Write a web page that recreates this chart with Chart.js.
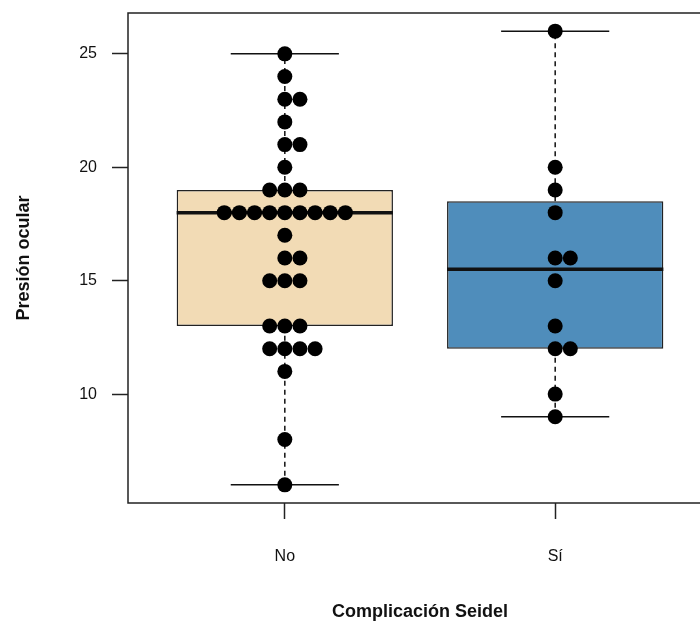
<!DOCTYPE html>
<html>
<head>
<meta charset="utf-8">
<script src="https://cdn.jsdelivr.net/npm/chart.js@4/dist/chart.umd.min.js"></script>
<style>
  html, body { margin: 0; padding: 0; background: #fff; overflow: hidden; }
  #wrap { width: 720px; height: 628px; }
</style>
</head>
<body>
<div id="wrap"><canvas id="grafico" width="720" height="628"></canvas></div>
<script>
// grupos y colores
const grupos = ['No', 'Sí'];
const coloresCaja = ['#F2DBB5', '#4F8DBB'];

// observaciones (presión ocular) por grupo
const presionNo = [6, 8, 11, 12, 12, 12, 12, 13, 13, 13, 15, 15, 15, 16, 16, 17,
  18, 18, 18, 18, 18, 18, 18, 18, 18, 19, 19, 19, 20, 21, 21, 22, 23, 23, 24, 25];
const presionSi = [9, 10, 12, 12, 13, 15, 16, 16, 18, 19, 20, 26];

// resumen de las cajas
const q1 = [13, 12];
const mediana = [18, 15.5];
const q3 = [19, 18.5];
const bigoteMin = [6, 9];
const bigoteMax = [25, 26];

const ticksY = [10, 15, 20, 25];

const fuente = '"Liberation Sans", Arial, Helvetica, sans-serif';

// colocar los puntos en enjambre: centro, +1, -1, +2, -2 ...
let enjambre = function (valores, centro) {
  let cuenta = {};
  return valores.map(function (v) {
    let k = cuenta[v] || 0;
    cuenta[v] = k + 1;
    let paso = k === 0 ? 0 : (k % 2 === 1 ? (k + 1) / 2 : -k / 2);
    return { x: centro + paso * 0.056, y: v };
  });
};

let linea = function (puntos, ancho, guiones, orden) {
  return {
    type: 'line',
    data: puntos,
    borderColor: '#111',
    borderWidth: ancho,
    borderDash: guiones,
    pointRadius: 0,
    fill: false,
    order: orden
  };
};

let datasets = [];

// cajas (barras flotantes de q1 a q3)
datasets.push({
  type: 'bar',
  data: grupos.map(function (g, i) { return { x: i + 1, y: [q1[i], q3[i]] }; }),
  backgroundColor: coloresCaja,
  borderColor: '#222',
  borderWidth: 1.5,
  borderSkipped: false,
  categoryPercentage: 1,
  barPercentage: 0.8,
  order: 5
});

grupos.forEach(function (g, i) {
  let c = i + 1;
  // bigotes
  datasets.push(linea([{ x: c, y: q3[i] }, { x: c, y: bigoteMax[i] }], 1.5, [5, 4], 4));
  datasets.push(linea([{ x: c, y: bigoteMin[i] }, { x: c, y: q1[i] }], 1.5, [5, 4], 4));
  // topes
  datasets.push(linea([{ x: c - 0.2, y: bigoteMax[i] }, { x: c + 0.2, y: bigoteMax[i] }], 1.5, [], 3));
  datasets.push(linea([{ x: c - 0.2, y: bigoteMin[i] }, { x: c + 0.2, y: bigoteMin[i] }], 1.5, [], 3));
  // mediana
  datasets.push(linea([{ x: c - 0.4, y: mediana[i] }, { x: c + 0.4, y: mediana[i] }], 3.5, [], 2));
});

// puntos
datasets.push({
  type: 'scatter',
  data: enjambre(presionNo, 1).concat(enjambre(presionSi, 2)),
  backgroundColor: '#000',
  borderWidth: 0,
  pointRadius: 7.5,
  order: 0
});

// marco del gráfico
const marco = {
  id: 'marco',
  afterDraw: function (chart) {
    let a = chart.chartArea;
    let ctx = chart.ctx;
    ctx.save();
    ctx.strokeStyle = '#222';
    ctx.lineWidth = 1.5;
    ctx.strokeRect(a.left, a.top, a.right - a.left, a.bottom - a.top);
    ctx.restore();
  }
};

let ctx = document.getElementById('grafico').getContext('2d');
let chart = new Chart(ctx, {
  type: 'bar',
  data: { datasets: datasets },
  plugins: [marco],
  options: {
    responsive: false,
    animation: false,
    events: [],
    layout: { padding: { top: 13, right: 8, left: 0, bottom: 0 } },
    plugins: {
      legend: { display: false },
      tooltip: { enabled: false }
    },
    scales: {
      x: {
        type: 'linear',
        min: 0.42,
        max: 2.58,
        offset: false,
        afterFit: function (s) {
          s.height = 125;
          s.paddingLeft = 0;
          s.paddingRight = 0;
        },
        afterBuildTicks: function (s) { s.ticks = grupos.map(function (g, i) { return { value: i + 1 }; }); },
        ticks: {
          callback: function (v) { return grupos[v - 1]; },
          color: '#111',
          font: { family: fuente, size: 16 },
          padding: 28,
          maxRotation: 0
        },
        grid: { offset: false, drawOnChartArea: false, drawTicks: true, tickLength: 16, tickColor: '#222', tickWidth: 1.5 },
        border: { display: false },
        title: {
          display: true,
          text: 'Complicación Seidel',
          color: '#111',
          font: { family: fuente, size: 18, weight: 'bold' },
          padding: { top: 0, bottom: 5 }
        }
      },
      y: {
        min: 5.2,
        max: 26.8,
        afterFit: function (s) {
          s.width = 128;
          s.paddingTop = 0;
          s.paddingBottom = 0;
        },
        afterBuildTicks: function (s) { s.ticks = ticksY.map(function (v) { return { value: v }; }); },
        ticks: {
          color: '#111',
          font: { family: fuente, size: 16 },
          padding: 15
        },
        grid: { drawOnChartArea: false, drawTicks: true, tickLength: 16, tickColor: '#222', tickWidth: 1.5 },
        border: { display: false },
        title: {
          display: true,
          text: 'Presión ocular',
          color: '#111',
          font: { family: fuente, size: 18, weight: 'bold' },
          padding: { top: 13, bottom: 0 }
        }
      }
    }
  }
});
</script>
</body>
</html>
